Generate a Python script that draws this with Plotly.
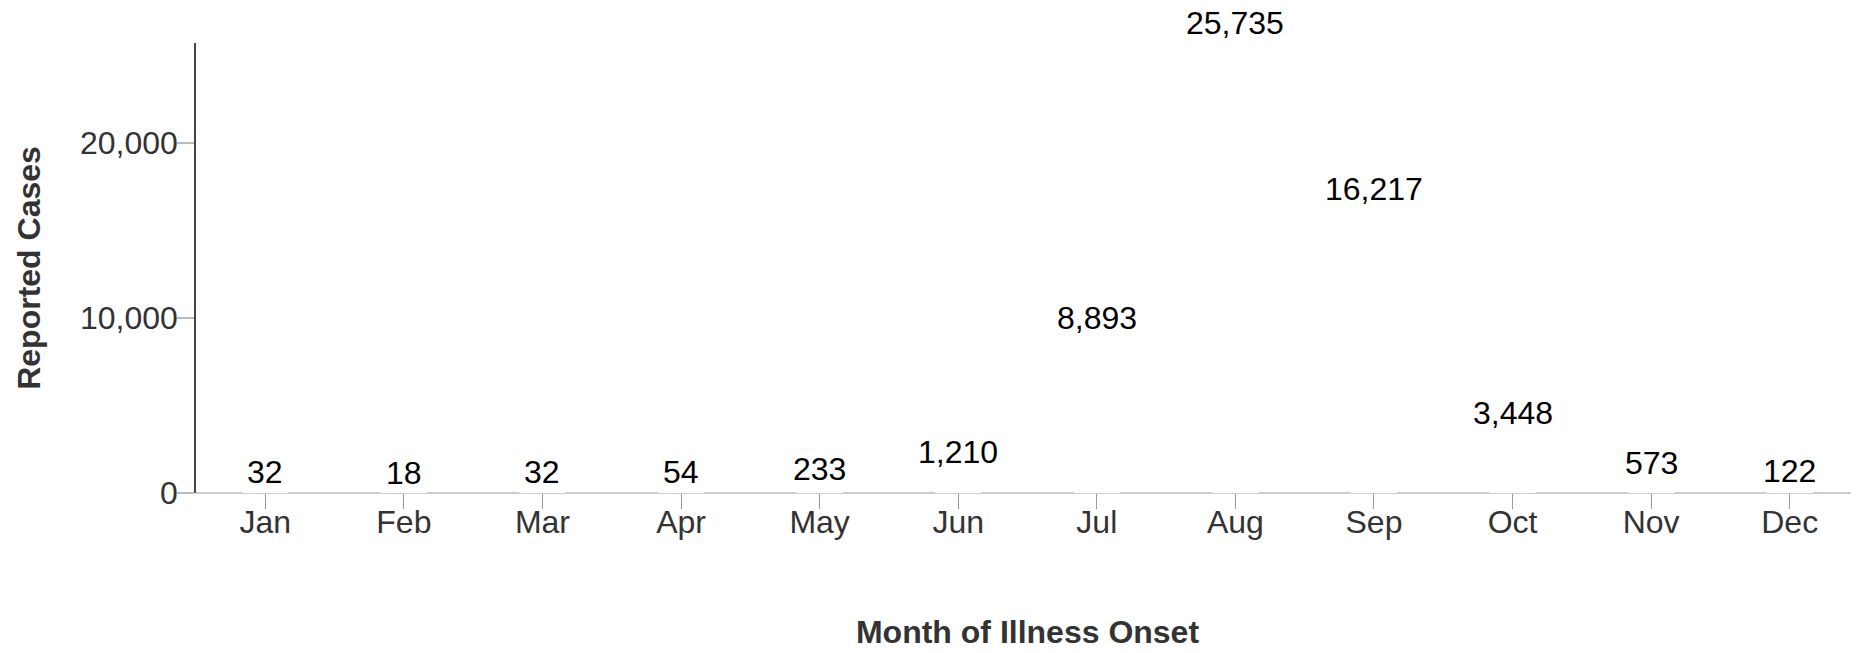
import plotly.graph_objects as go

months = ["Jan", "Feb", "Mar", "Apr", "May", "Jun", "Jul", "Aug", "Sep", "Oct", "Nov", "Dec"]
cases = [32, 18, 32, 54, 233, 1210, 8893, 25735, 16217, 3448, 573, 122]
y_ticks = [0, 10000, 20000]
y_tick_labels = ["0", "10,000", "20,000"]

FONT = "Helvetica Neue, Helvetica, Arial, Liberation Sans, sans-serif"

fig = go.Figure()
fig.add_trace(go.Bar(
    x=months, y=cases,
    width=0.32,
    marker=dict(color="white", line=dict(color="white", width=2)),
    hoverinfo="x+y",
))

for m, v in zip(months, cases):
    fig.add_annotation(
        x=m, y=v, xref="x", yref="y",
        text=f"{v:,}", showarrow=False,
        yanchor="bottom", yshift=0,
        font=dict(family=FONT, size=32, color="#000000"),
    )

# the page body adds an 8px margin, so the figure is 8px smaller than the window
fig.update_layout(
    width=1851, height=645,
    margin=dict(l=188, r=0, t=35, b=160, autoexpand=False),
    plot_bgcolor="white", paper_bgcolor="white",
    showlegend=False,
    font=dict(family=FONT, size=32, color="#333333"),
)
fig.update_xaxes(
    type="category",
    categoryorder="array", categoryarray=months,
    range=[-0.5, 11.5],
    showgrid=False, showline=False, zeroline=False,
    ticks="outside", ticklen=15, tickwidth=1, tickcolor="#999999",
    ticklabelstandoff=-14,
    tickfont=dict(family=FONT, size=32, color="#333333"),
    automargin=False,
    title=dict(text="<b>Month of Illness Onset</b>", standoff=81,
               font=dict(family=FONT, size=32, color="#333333")),
)
fig.update_yaxes(
    range=[0, 25735],
    tickvals=y_ticks, ticktext=y_tick_labels,
    showgrid=False,
    showline=True, linecolor="#444444", linewidth=1.5,
    zeroline=True, zerolinecolor="#cccccc", zerolinewidth=2,
    ticks="outside", ticklen=17, tickwidth=2, tickcolor="#bbbbbb",
    ticklabelstandoff=-7,
    tickfont=dict(family=FONT, size=32, color="#333333"),
    automargin=False,
    title=dict(text="<b>Reported Cases</b>", standoff=30,
               font=dict(family=FONT, size=32, color="#333333")),
)

fig.write_html("out.html")
